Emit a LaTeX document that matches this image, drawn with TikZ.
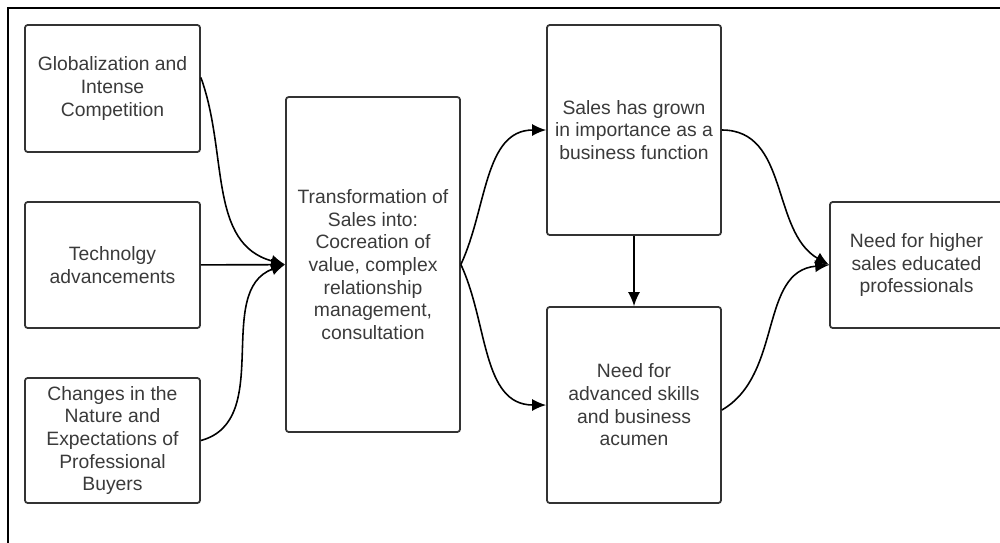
\documentclass[tikz,border=0pt]{standalone}
\usepackage{fontspec}
\setmainfont{Liberation Sans}
\usetikzlibrary{arrows.meta}
\definecolor{boxgray}{HTML}{333333}
\definecolor{textgray}{HTML}{3A3A3A}
\begin{document}
\begin{tikzpicture}[x=0.02cm, y=-0.02cm]
    \useasboundingbox (0,0) rectangle (1000,542);
    \draw [line width=1.1pt] (8,8) rectangle (1020,560);

    \begin{scope}[every node/.style={rectangle, rounded corners=1.5pt, draw=boxgray, line width=1pt, text=textgray, align=center, inner sep=2pt, font=\fontsize{11}{12.9}\selectfont}]
        \node [minimum width=3.5cm, minimum height=2.54cm] (glob) at (112.5,88.5) {Globalization and\\Intense\\Competition};
        \node [minimum width=3.5cm, minimum height=2.52cm] (tech) at (112.5,265) {Technolgy\\advancements};
        \node [minimum width=3.5cm, minimum height=2.5cm] (chg) at (112.5,440.5) {Changes in the\\Nature and\\Expectations of\\Professional\\Buyers};
        \node [minimum width=3.48cm, minimum height=6.7cm] (trans) at (373,264.5) {Transformation of\\Sales into:\\Cocreation of\\value, complex\\relationship\\management,\\consultation};
        \node [minimum width=3.48cm, minimum height=4.2cm] (grown) at (634,130) {Sales has grown\\in importance as a\\business function};
        \node [minimum width=3.48cm, minimum height=3.92cm] (skills) at (634,405) {Need for\\advanced skills\\and business\\acumen};
        \node [minimum width=3.46cm, minimum height=2.52cm] (need) at (916.5,265) {Need for higher\\sales educated\\professionals};
    \end{scope}

    \begin{scope}[every edge/.style={draw, line width=0.9pt, -{Latex[length=0.28cm, width=0.24cm]}}]
        \path ([yshift=0.22cm]glob.east) edge [out=-70, in=165] (trans.west);
        \path (tech) edge (trans);
        \path (chg.east) edge [out=15, in=200] (trans.west);

        \path (trans.east) edge [out=65, in=180] (grown.west);
        \path (trans.east) edge [out=-65, in=180] (skills.west);
        \path (grown) edge (skills);

        \path (grown.east) edge [out=0, in=150] (need.west);
        \path ([yshift=-0.1cm]skills.east) edge [out=30, in=185] (need.west);
    \end{scope}
\end{tikzpicture}
\end{document}
